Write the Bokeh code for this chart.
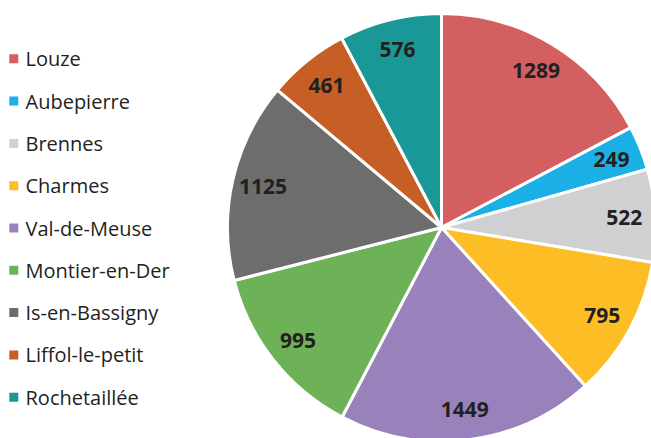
import math
from bokeh.plotting import figure
from bokeh.models import ColumnDataSource
from bokeh.core.properties import value
from bokeh.embed import file_html
from bokeh.resources import INLINE

categories = ["Louze", "Aubepierre", "Brennes", "Charmes", "Val-de-Meuse",
              "Montier-en-Der", "Is-en-Bassigny", "Liffol-le-petit", "Rochetaillée"]
values = [1289, 249, 522, 795, 1449, 995, 1125, 461, 576]
colors = ["#d35f61", "#1bb0e6", "#d0d0d2", "#fdbd25", "#9982bb",
          "#6db257", "#6d6d6d", "#c55f25", "#1a9898"]

W, H = 651, 438
CX, CY = 441, H - 227
R = 214
RL = 183

total = sum(values)
starts, ends, lx, ly = [], [], [], []
cum = 0
for v in values:
    a0 = math.pi / 2 - 2 * math.pi * cum / total
    a1 = math.pi / 2 - 2 * math.pi * (cum + v) / total
    starts.append(a0)
    ends.append(a1)
    mid = (a0 + a1) / 2
    lx.append(CX + RL * math.cos(mid))
    ly.append(CY + RL * math.sin(mid))
    cum += v

src = ColumnDataSource(dict(cat=categories, val=[str(v) for v in values], color=colors,
                            start=starts, end=ends, lx=lx, ly=ly))

p = figure(width=W, height=H, x_range=(0, W), y_range=(0, H),
           output_backend="svg", toolbar_location=None, min_border=0)
p.axis.visible = False
p.grid.visible = False
p.outline_line_color = None
p.background_fill_color = "white"
p.border_fill_color = "white"

p.wedge(x=CX, y=CY, radius=R, start_angle="start", end_angle="end", direction="clock",
        fill_color="color", line_color="white", line_width=3, source=src)

p.text(x="lx", y="ly", text="val", source=src, text_align="center", text_baseline="middle",
       text_font=value("Open Sans"), text_font_style="bold", text_font_size="21px",
       text_color="#231f20")

# legend
n = len(categories)
leg_y = [H - (58.3 + i * 42.3) for i in range(n)]
lsrc = ColumnDataSource(dict(cat=categories, color=colors, x=[13.3] * n, y=leg_y, tx=[25] * n))
p.scatter(x="x", y="y", marker="square", size=9, fill_color="color", line_color=None, source=lsrc)
p.text(x="tx", y="y", text="cat", source=lsrc, text_align="left", text_baseline="middle",
       text_font=value("Open Sans"), text_font_size="20px", text_color="#231f20")

open("out.html", "w").write(file_html(p, INLINE))
